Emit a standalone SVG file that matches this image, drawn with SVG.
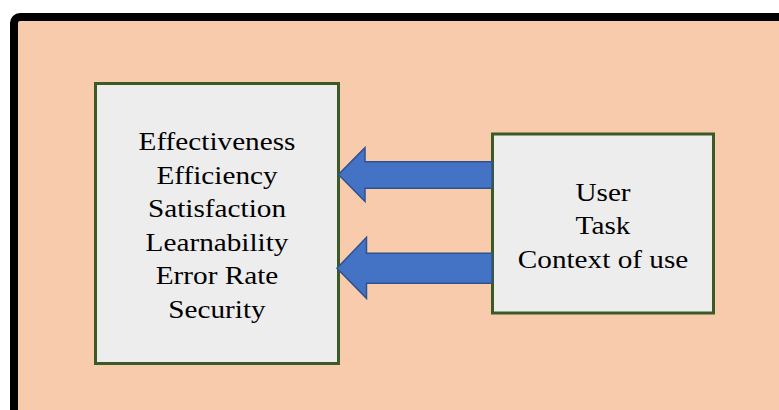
<svg xmlns="http://www.w3.org/2000/svg" width="779" height="410" viewBox="0 0 779 410">
<style>
.box{fill:#EDEDED;stroke:#3B5A25;stroke-width:3}
.arrow{fill:#4472C4;stroke:#2F528F;stroke-width:1.5;stroke-linejoin:miter}
.lbl{font-family:"Liberation Serif","Times New Roman",serif;font-size:25px;fill:#000;text-anchor:middle}
</style>
<rect width="779" height="410" fill="#FFFFFF"/>
<rect id="frame" x="14" y="17" width="790" height="420" rx="6" ry="6" fill="#F8CBAD" stroke="#000" stroke-width="8"/>
<g id="metrics">
<rect class="box" x="95.5" y="83.5" width="243" height="280"/>
<g transform="translate(217,0) scale(1.17,1)">
<text class="lbl" x="0" y="150">Effectiveness</text>
<text class="lbl" x="0" y="183.6">Efficiency</text>
<text class="lbl" x="0" y="217.2">Satisfaction</text>
<text class="lbl" x="0" y="250.8">Learnability</text>
<text class="lbl" x="0" y="284.4">Error Rate</text>
<text class="lbl" x="0" y="318">Security</text>
</g>
</g>
<g id="context">
<rect class="box" x="492.5" y="134" width="221" height="179"/>
<g transform="translate(603,0) scale(1.17,1)">
<text class="lbl" x="0" y="201">User</text>
<text class="lbl" x="0" y="234.5">Task</text>
<text class="lbl" x="0" y="268.3">Context of use</text>
</g>
</g>
<g id="connectors">
<polygon class="arrow" points="492,161.7 365,161.7 365,147.7 338.5,174.5 365,201.5 365,188.3 492,188.3"/>
<polygon class="arrow" points="492,253.3 366.5,253.3 366.5,237.3 337,268.3 366.5,298.3 366.5,283.3 492,283.3"/>
</g>
</svg>
